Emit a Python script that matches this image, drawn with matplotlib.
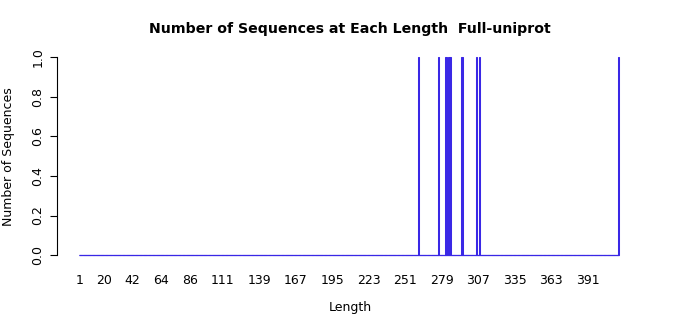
import numpy as np
import matplotlib
matplotlib.use("Agg")
import matplotlib.pyplot as plt

# lengths observed in the set (one sequence each), everything else is zero
max_length = 415
observed_lengths = [261, 277, 282, 283, 284, 285, 286, 294, 295, 306, 308, 415]
observed_counts = [1, 1, 1, 1, 1, 1, 1, 1, 1, 1, 1, 1]

tick_labels = ["1", "20", "42", "64", "86", "111", "139", "167", "195",
               "223", "251", "279", "307", "335", "363", "391"]
y_ticks = [0.0, 0.2, 0.4, 0.6, 0.8, 1.0]

lengths = np.arange(1, max_length + 1)
counts = np.zeros(max_length)
for L, c in zip(observed_lengths, observed_counts):
    counts[L - 1] = c

# R barplot geometry: width 1, space 0.2
centers = 0.7 + (lengths - 1) * 1.2
lo, hi = 0.2, max_length * 1.2
pad = 0.04 * (hi - lo)

edge_col = "#3a28e6"
fill_col = "#5000c0"

W, H = 700, 315
fig = plt.figure(figsize=(7, 3.15), dpi=100)
ax = fig.add_axes([57 / W, 1 - 263 / H, (641 - 57) / W, (263 - 49.4) / H])

ax.bar(centers, counts, width=1.0, color=fill_col, edgecolor=edge_col,
       linewidth=0.75)
# zero-height bars show up as their border along the baseline
ax.hlines(0, centers[0] - 0.5, centers[-1] + 0.5, color=edge_col, linewidth=0.9)

ax.set_xlim(lo - pad, hi + pad)
ax.set_ylim(-0.04, 1.04)

for s in ["top", "right", "bottom"]:
    ax.spines[s].set_visible(False)
ax.spines["left"].set_bounds(0, 1)
ax.spines["left"].set_linewidth(0.8)

ax.set_yticks(y_ticks)
ax.set_yticklabels([f"{v:.1f}" for v in y_ticks], rotation=90, va="center",
                   fontsize=9)
ax.tick_params(axis="y", length=5, width=0.8, pad=4)

tick_pos = [centers[int(t) - 1] for t in tick_labels]
ax.set_xticks(tick_pos)
ax.set_xticklabels(tick_labels, fontsize=9)
ax.tick_params(axis="x", length=0, pad=8)

fig.text(350 / W, 1 - 29 / H, "Number of Sequences at Each Length  Full-uniprot",
         ha="center", va="center", fontsize=10.2, fontweight="bold")
fig.text(350 / W, 1 - 307 / H, "Length", ha="center", va="center", fontsize=9)
fig.text(9 / W, 1 - 157 / H, "Number of Sequences", ha="center", va="center",
         rotation=90, fontsize=9)

fig.savefig("out.png", dpi=100)
